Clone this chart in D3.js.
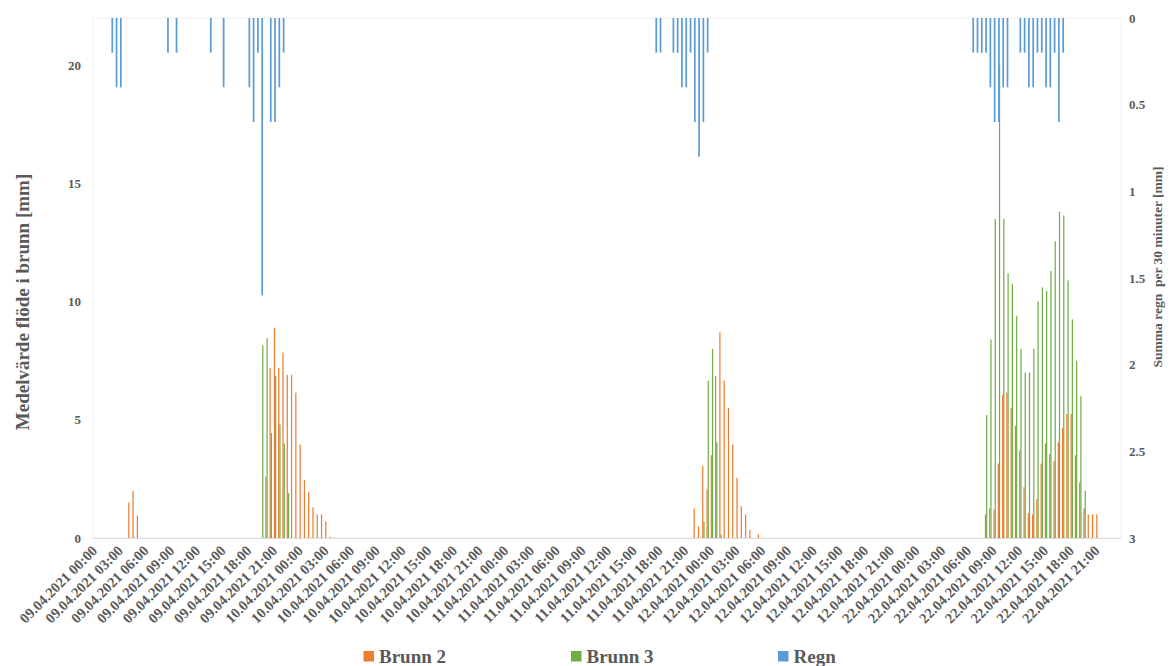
<!DOCTYPE html>
<html>
<head>
<meta charset="utf-8">
<script src="https://cdn.jsdelivr.net/npm/d3@7/dist/d3.min.js"></script>
<style>
  html, body { margin: 0; padding: 0; background: #ffffff; }
  svg { display: block; }
  text { font-family: "Liberation Serif", "Times New Roman", serif; font-weight: bold; fill: #595959; }
</style>
</head>
<body>
<svg id="chart" width="1173" height="666"></svg>
<script>
// Measurement days shown on the category axis (30-minute slots per day)
const days = ["09.04.2021", "10.04.2021", "11.04.2021", "12.04.2021", "22.04.2021"];

// Mean flow in well Brunn 2 [mm] (slots without a value are zero)
const brunn2 = [
  ["09.04.2021 04:00", 1.5], ["09.04.2021 04:30", 2.0], ["09.04.2021 05:00", 0.95],
  ["09.04.2021 20:00", 2.6], ["09.04.2021 20:30", 7.2], ["09.04.2021 21:00", 8.9],
  ["09.04.2021 21:30", 7.2], ["09.04.2021 22:00", 7.85], ["09.04.2021 22:30", 6.9],
  ["09.04.2021 23:00", 6.9], ["09.04.2021 23:30", 6.15], ["10.04.2021 00:00", 3.95],
  ["10.04.2021 00:30", 2.45], ["10.04.2021 01:00", 1.95], ["10.04.2021 01:30", 1.3],
  ["10.04.2021 02:00", 1.0], ["10.04.2021 02:30", 1.0], ["10.04.2021 03:00", 0.7],
  ["10.04.2021 03:30", 0.05],
  ["11.04.2021 22:00", 1.25], ["11.04.2021 22:30", 0.5], ["11.04.2021 23:00", 3.05],
  ["11.04.2021 23:30", 2.05], ["12.04.2021 00:00", 3.5], ["12.04.2021 00:30", 6.85],
  ["12.04.2021 01:00", 8.7], ["12.04.2021 01:30", 6.65], ["12.04.2021 02:00", 5.5],
  ["12.04.2021 02:30", 3.95], ["12.04.2021 03:00", 2.55], ["12.04.2021 03:30", 1.35],
  ["12.04.2021 04:00", 1.0], ["12.04.2021 04:30", 0.35], ["12.04.2021 05:30", 0.15],
  ["22.04.2021 08:00", 1.0], ["22.04.2021 08:30", 1.25], ["22.04.2021 09:00", 1.2],
  ["22.04.2021 09:30", 3.15], ["22.04.2021 10:00", 6.05], ["22.04.2021 10:30", 6.15],
  ["22.04.2021 11:00", 5.5], ["22.04.2021 11:30", 4.75], ["22.04.2021 12:00", 3.7],
  ["22.04.2021 12:30", 2.15], ["22.04.2021 13:00", 1.05], ["22.04.2021 13:30", 1.0],
  ["22.04.2021 14:00", 1.65], ["22.04.2021 14:30", 3.15], ["22.04.2021 15:00", 4.0],
  ["22.04.2021 15:30", 3.55], ["22.04.2021 16:00", 3.25], ["22.04.2021 16:30", 4.05],
  ["22.04.2021 17:00", 4.65], ["22.04.2021 17:30", 5.25], ["22.04.2021 18:00", 5.25],
  ["22.04.2021 18:30", 3.5], ["22.04.2021 19:00", 2.35], ["22.04.2021 19:30", 1.25],
  ["22.04.2021 20:00", 1.0], ["22.04.2021 20:30", 1.0], ["22.04.2021 21:00", 1.0]
];

// Mean flow in well Brunn 3 [mm]
const brunn3 = [
  ["09.04.2021 19:30", 8.15], ["09.04.2021 20:00", 8.45], ["09.04.2021 20:30", 4.45],
  ["09.04.2021 21:00", 6.85], ["09.04.2021 21:30", 4.8], ["09.04.2021 22:00", 4.0],
  ["09.04.2021 22:30", 1.9],
  ["11.04.2021 23:00", 0.7], ["11.04.2021 23:30", 6.65], ["12.04.2021 00:00", 8.0],
  ["12.04.2021 00:30", 4.05], ["12.04.2021 01:00", 0.15],
  ["22.04.2021 08:00", 5.2], ["22.04.2021 08:30", 8.4], ["22.04.2021 09:00", 13.5],
  ["22.04.2021 09:30", 20.0], ["22.04.2021 10:00", 13.5], ["22.04.2021 10:30", 11.2],
  ["22.04.2021 11:00", 10.75], ["22.04.2021 11:30", 9.4], ["22.04.2021 12:00", 8.0],
  ["22.04.2021 12:30", 7.0], ["22.04.2021 13:00", 7.0], ["22.04.2021 13:30", 8.0],
  ["22.04.2021 14:00", 10.0], ["22.04.2021 14:30", 10.6], ["22.04.2021 15:00", 10.45],
  ["22.04.2021 15:30", 11.3], ["22.04.2021 16:00", 12.55], ["22.04.2021 16:30", 13.8],
  ["22.04.2021 17:00", 13.65], ["22.04.2021 17:30", 10.9], ["22.04.2021 18:00", 9.25],
  ["22.04.2021 18:30", 7.5], ["22.04.2021 19:00", 6.0], ["22.04.2021 19:30", 2.0]
];

// Rain summed per 30 minutes [mm]
const regn = [
  ["09.04.2021 02:00", 0.2], ["09.04.2021 02:30", 0.4], ["09.04.2021 03:00", 0.4],
  ["09.04.2021 08:30", 0.2], ["09.04.2021 09:30", 0.2], ["09.04.2021 13:30", 0.2],
  ["09.04.2021 15:00", 0.4], ["09.04.2021 18:00", 0.4], ["09.04.2021 18:30", 0.6],
  ["09.04.2021 19:00", 0.2], ["09.04.2021 19:30", 1.6], ["09.04.2021 20:30", 0.6],
  ["09.04.2021 21:00", 0.6], ["09.04.2021 21:30", 0.4], ["09.04.2021 22:00", 0.2],
  ["11.04.2021 17:30", 0.2], ["11.04.2021 18:00", 0.2], ["11.04.2021 19:30", 0.2],
  ["11.04.2021 20:00", 0.2], ["11.04.2021 20:30", 0.4], ["11.04.2021 21:00", 0.4],
  ["11.04.2021 21:30", 0.2], ["11.04.2021 22:00", 0.6], ["11.04.2021 22:30", 0.8],
  ["11.04.2021 23:00", 0.6], ["11.04.2021 23:30", 0.2],
  ["22.04.2021 06:30", 0.2], ["22.04.2021 07:00", 0.2], ["22.04.2021 07:30", 0.2],
  ["22.04.2021 08:00", 0.2], ["22.04.2021 08:30", 0.4], ["22.04.2021 09:00", 0.6],
  ["22.04.2021 09:30", 0.6], ["22.04.2021 10:00", 0.4], ["22.04.2021 10:30", 0.4],
  ["22.04.2021 12:00", 0.2], ["22.04.2021 12:30", 0.2], ["22.04.2021 13:00", 0.4],
  ["22.04.2021 13:30", 0.4], ["22.04.2021 14:00", 0.2], ["22.04.2021 14:30", 0.2],
  ["22.04.2021 15:00", 0.4], ["22.04.2021 15:30", 0.4], ["22.04.2021 16:00", 0.2],
  ["22.04.2021 16:30", 0.6], ["22.04.2021 17:00", 0.2]
];

const leftTicks = [0, 5, 10, 15, 20];
const rightTicks = [0, 0.5, 1, 1.5, 2, 2.5, 3];
const seriesNames = ["Brunn 2", "Brunn 3", "Regn"];
const seriesColors = ["#ED7D31", "#70AD47", "#5B9BD5"];

// Category labels: every half hour of each measurement day
const pad2 = n => String(n).padStart(2, "0");
const categories = [];
days.forEach(d => {
  for (let s = 0; s < 48; s++) {
    categories.push(d + " " + pad2(Math.floor(s / 2)) + ":" + (s % 2 ? "30" : "00"));
  }
});
// Every sixth category (3 hours) carries an axis label
const labelledCategories = categories.filter((c, i) => i % 6 === 0);

const svg = d3.select("#chart");
const plot = { left: 93, right: 1121, top: 18, bottom: 538 };

const x = d3.scaleBand().domain(categories).range([plot.left, plot.right]).paddingInner(0).paddingOuter(0);
const xFlow = d3.scaleBand().domain(["Brunn 2", "Brunn 3"]).range([0, x.bandwidth()]).paddingInner(0).paddingOuter(0.75);
const xRain = d3.scaleBand().domain(["Regn"]).range([0, x.bandwidth()]).paddingInner(0).paddingOuter(0.75);
const yLeft = d3.scaleLinear().domain([0, 22]).range([plot.bottom, plot.top]);
const yRight = d3.scaleLinear().domain([0, 3]).range([plot.top, plot.bottom]);

// Plot area frame
svg.append("rect")
  .attr("x", plot.left).attr("y", plot.top)
  .attr("width", plot.right - plot.left).attr("height", plot.bottom - plot.top)
  .attr("fill", "none").attr("stroke", "#f0f0f0").attr("stroke-width", 1);

// Flow bars (primary axis)
const flowSeries = [
  { name: "Brunn 2", data: brunn2, color: seriesColors[0] },
  { name: "Brunn 3", data: brunn3, color: seriesColors[1] }
];
flowSeries.forEach(s => {
  svg.append("g").selectAll("rect").data(s.data).join("rect")
    .attr("x", d => x(d[0]) + xFlow(s.name))
    .attr("width", xFlow.bandwidth())
    .attr("y", d => yLeft(d[1]))
    .attr("height", d => yLeft(0) - yLeft(d[1]))
    .attr("fill", s.color);
});

// Category axis baseline
svg.append("line")
  .attr("x1", plot.left).attr("x2", plot.right)
  .attr("y1", plot.bottom + 0.5).attr("y2", plot.bottom + 0.5)
  .attr("stroke", "#d9d9d9").attr("stroke-width", 1);

// Rain bars hang from the top (secondary, reversed axis)
svg.append("g").selectAll("rect").data(regn).join("rect")
  .attr("x", d => x(d[0]) + xRain("Regn"))
  .attr("width", xRain.bandwidth())
  .attr("y", yRight(0))
  .attr("height", d => yRight(d[1]) - yRight(0))
  .attr("fill", seriesColors[2]);

// Left axis
const axisLeft = svg.append("g").attr("transform", `translate(${plot.left},0)`)
  .call(d3.axisLeft(yLeft).tickValues(leftTicks).tickSize(0).tickPadding(12));
axisLeft.select(".domain").remove();
axisLeft.selectAll("text").style("font-size", "13px").attr("fill", "#595959")
  .style("font-family", '"Liberation Serif", serif').style("font-weight", "bold");

// Right axis
const axisRight = svg.append("g").attr("transform", `translate(${plot.right},0)`)
  .call(d3.axisRight(yRight).tickValues(rightTicks).tickSize(0).tickPadding(8).tickFormat(d3.format("~g")));
axisRight.select(".domain").remove();
axisRight.selectAll("text").style("font-size", "13px").attr("fill", "#595959")
  .style("font-family", '"Liberation Serif", serif').style("font-weight", "bold");

// Rotated category labels
svg.append("g").selectAll("text").data(labelledCategories).join("text")
  .attr("transform", d => `translate(${x(d) + x.bandwidth() / 2 - 0.5},${plot.bottom + 10}) rotate(-45)`)
  .attr("text-anchor", "end")
  .attr("dy", "0.35em")
  .style("font-size", "14.5px")
  .text(d => d);

// Axis titles
svg.append("text")
  .attr("transform", "translate(29,302) rotate(-90)")
  .attr("text-anchor", "middle")
  .style("font-size", "19px")
  .text("Medelvärde flöde i brunn [mm]");

svg.append("text")
  .attr("transform", "translate(1162,267) rotate(-90)")
  .attr("text-anchor", "middle")
  .style("font-size", "13.5px")
  .style("white-space", "pre")
  .text("Summa regn\u00a0 per 30 minuter [mm]");

// Legend
const legendX = [363.5, 571, 778];
const legend = svg.append("g").selectAll("g").data(seriesNames).join("g")
  .attr("transform", (d, i) => `translate(${legendX[i]},651)`);
legend.append("rect").attr("width", 10.5).attr("height", 10.5)
  .attr("fill", (d, i) => seriesColors[i]);
legend.append("text").attr("x", 15.5).attr("y", 12)
  .style("font-size", "19px")
  .text(d => d);
</script>
</body>
</html>
